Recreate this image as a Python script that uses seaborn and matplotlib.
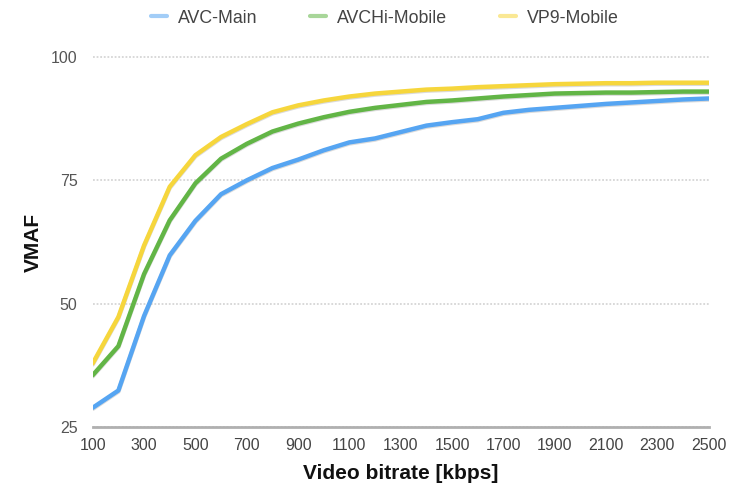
import numpy as np
import pandas as pd
import seaborn as sns
import matplotlib
matplotlib.use("Agg")
import matplotlib.pyplot as plt
import matplotlib.patheffects as pe

#%% Data
bitrate = list(range(100, 2600, 100))
avc_main = [28.9, 32.4, 47.5, 59.8, 66.8, 72.2, 75.0, 77.5, 79.2, 81.1, 82.7, 83.5, 84.8,
            86.1, 86.8, 87.4, 88.7, 89.3, 89.7, 90.1, 90.5, 90.8, 91.1, 91.4, 91.6]
avchi_mobile = [35.5, 41.4, 56.0, 66.9, 74.4, 79.4, 82.4, 84.9, 86.5, 87.8, 88.9, 89.7, 90.3,
                90.9, 91.2, 91.6, 92.0, 92.3, 92.6, 92.7, 92.8, 92.8, 92.9, 93.0, 93.0]
vp9_mobile = [37.9, 47.3, 61.8, 73.7, 80.1, 83.8, 86.4, 88.8, 90.2, 91.2, 92.0, 92.6, 93.0,
              93.4, 93.6, 93.9, 94.1, 94.3, 94.5, 94.6, 94.7, 94.7, 94.8, 94.8, 94.8]
series_names = ["AVC-Main", "AVCHi-Mobile", "VP9-Mobile"]
x_ticks = list(range(100, 2600, 200))
y_ticks = [25, 50, 75, 100]

data = pd.DataFrame({"bitrate": bitrate * 3,
                     "vmaf": avc_main + avchi_mobile + vp9_mobile,
                     "codec": np.repeat(series_names, len(bitrate))})

#%% Plot
my_pal = {"AVC-Main": "#56a5f2", "AVCHi-Mobile": "#62b546", "VP9-Mobile": "#f6d63c"}
sns.set_style("white")
plt.rcParams["font.family"] = ["Liberation Sans", "DejaVu Sans"]

f = plt.figure(figsize=(7.36, 4.90), dpi=100)
ax = f.add_axes([0.126, 0.1286, 0.837, 0.755])
sns.lineplot(data=data, x="bitrate", y="vmaf", hue="codec", palette=my_pal,
             hue_order=series_names, lw=3.2, ax=ax, legend=False,
             path_effects=[pe.SimpleLineShadow(offset=(0, -0.8), shadow_color="0.6", alpha=0.35),
                           pe.Normal()])

ax.set_xlim(100, 2500)
ax.set_ylim(25, 100)
ax.set_xticks(x_ticks)
ax.set_yticks(y_ticks)
ax.set_xticklabels([str(t) for t in x_ticks], fontsize=11.5, color="#444444")
ax.set_yticklabels([str(t) for t in y_ticks], fontsize=11.5, color="#555555")
ax.tick_params(axis="both", length=0)
ax.tick_params(axis="y", pad=11)
ax.tick_params(axis="x", pad=8)

ax.yaxis.grid(True, color="#d6d6d6", linestyle=(0, (1, 1)), lw=1.3)
for gl in ax.get_ygridlines():
    gl.set_clip_on(False)
ax.set_axisbelow(True)
for axis in ["top", "right", "left"]:
    ax.spines[axis].set_visible(False)
ax.spines["bottom"].set_color("#b0b0b0")
ax.spines["bottom"].set_linewidth(2)

ax.set_xlabel("Video bitrate [kbps]", fontsize=15, fontweight="bold", labelpad=8, color="#111111")
ax.set_ylabel("VMAF", fontsize=15, fontweight="bold", labelpad=6, color="#111111")

handles = [plt.Line2D([], [], color=my_pal[s], lw=3, alpha=0.55) for s in series_names]
f.legend(handles, series_names, loc="center", bbox_to_anchor=(0.523, 1 - 18 / 490), ncol=3,
         frameon=False, fontsize=12.8, handlelength=0.9, handletextpad=0.6, columnspacing=3.0,
         labelcolor="#444444")

plt.savefig("out.png", dpi=100)
